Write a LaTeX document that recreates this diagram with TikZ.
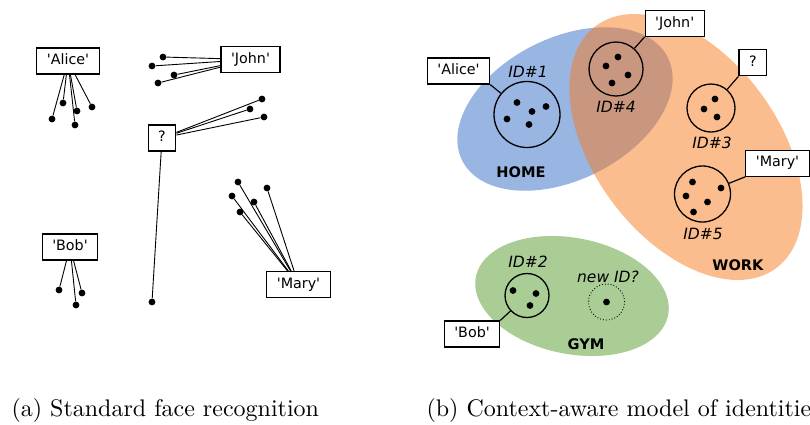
\documentclass[tikz,border=0pt]{standalone}
\usepackage{fontspec}
\newfontfamily\diagfont{DejaVu Sans}
\newfontfamily\capfont{lmroman10-regular.otf}
\usepackage{tikz}
\usetikzlibrary{calc,positioning}
\definecolor{HomeBlue}{RGB}{51,107,195}
\definecolor{WorkOrange}{RGB}{249,123,30}
\definecolor{GymGreen}{RGB}{86,156,46}

\begin{document}
\begin{tikzpicture}[x=1pt,y=-1pt,
       every node/.style={font=\diagfont\fontsize{14.3}{16}\selectfont},
       namebox/.style={draw, line width=1.2pt, fill=white, inner xsep=10pt,
                       inner ysep=6.25pt, text height=10.5pt, text depth=3pt},
       face/.style={circle, fill=black, inner sep=0pt, minimum size=6.8pt},
       link/.style={line width=0.9pt},
       identity/.style={circle, draw, line width=1.3pt, inner sep=0pt, minimum size=#1},
       idlabel/.style={font=\diagfont\itshape\fontsize{15.5}{18}\selectfont},
       ctxlabel/.style={font=\diagfont\bfseries\fontsize{14.6}{17}\selectfont},
       context/.style 2 args={fill=#1, fill opacity=0.5, rotate around={#2}},
       caption/.style={anchor=base west, font=\capfont\fontsize{24}{28}\selectfont}]

	\useasboundingbox (0,0) rectangle (810,424);

	%% (a) one label per face, no context
	\node [namebox] (alice) at (68,61) {'Alice'};
	\node [namebox] (john) at (250.5,59.5) {'John'};
	\node [namebox] (unk) at (162,138) {?};
	\node [namebox] (bob) at (70,247) {'Bob'};
	\node [namebox] (mary) at (298.5,284.5) {'Mary'};

	\foreach [count=\i] \p in {(52,119),(63,103),(77,111),(75,125),(92,107)}
		{\node [face] (fa\i) at \p {};
		 \draw [link] (fa\i) -- (alice);}
	\foreach [count=\i] \p in {(163,57),(152,66),(174,75),(158,83)}
		{\node [face] (fj\i) at \p {};
		 \draw [link] (fj\i) -- (john);}
	\foreach [count=\i] \p in {(262,99),(250,109),(264,117),(152,302)}
		{\node [face] (fu\i) at \p {};
		 \draw [link] (fu\i) -- (unk);}
	\foreach [count=\i] \p in {(59,290),(76,305),(82,293)}
		{\node [face] (fb\i) at \p {};
		 \draw [link] (fb\i) -- (bob);}
	\foreach [count=\i] \p in {(238,182),(267,188),(232,196),(254,202),(240,212)}
		{\node [face] (fm\i) at \p {};
		 \draw [link] (fm\i) -- (mary);}

	%% (b) contexts first, as the background
	\fill [context={HomeBlue}{26.6:(565,109)}] (565,109) ellipse [x radius=115pt, y radius=71pt];
	\fill [context={WorkOrange}{-53.3:(686,147)}] (686,147) ellipse [x radius=151pt, y radius=92pt];
	\fill [context={GymGreen}{-11.3:(572,296)}] (572,296) ellipse [x radius=98pt, y radius=58pt];

	\node [ctxlabel] (home) at (521,172) {HOME};
	\node [ctxlabel] (work) at (738,265) {WORK};
	\node [ctxlabel] (gym) at (586,344) {GYM};

	%% identities with their faces
	\node [identity=66pt] (id1) at (527,114.5) {};
	\node [identity=54pt] (id4) at (616,69) {};
	\node [identity=48pt] (id3) at (711,108) {};
	\node [identity=56pt] (id5) at (702.5,194) {};
	\node [identity=44pt] (id2) at (527,295.5) {};
	\node [identity=36pt, line width=0.9pt, dotted] (idnew) at (606.5,302) {};

	\foreach \dx/\dy in {-10/-12,5/-3,19/-8,-20/4.5,2/10}
		{\node [face] at ($(id1)+(\dx,\dy)$) {};}
	\foreach \dx/\dy in {2/-12,-10/-3,12/6,-4/14}
		{\node [face] at ($(id4)+(\dx,\dy)$) {};}
	\foreach \dx/\dy in {4/-9,-7/1,6/9}
		{\node [face] at ($(id3)+(\dx,\dy)$) {};}
	\foreach \dx/\dy in {-10/-12,18.5/-6,-16.5/2,5/8,-9/18}
		{\node [face] at ($(id5)+(\dx,\dy)$) {};}
	\foreach \dx/\dy in {-14/-5,9/-2,3/10}
		{\node [face] at ($(id2)+(\dx,\dy)$) {};}
	\node [face] at (idnew) {};

	\node [idlabel] at (528,72) {ID\#1};
	\node [idlabel] at (616,107) {ID\#4};
	\node [idlabel] at (712,143) {ID\#3};
	\node [idlabel] at (703,234) {ID\#5};
	\node [idlabel] at (528,262) {ID\#2};
	\node [idlabel] at (608,277) {new ID?};

	%% names attached to identities
	\node [namebox] (alice2) at (458.5,71) {'Alice'};
	\node [namebox] (john2) at (674.7,23.3) {'John'};
	\node [namebox] (unk2) at (752.8,62.8) {?};
	\node [namebox] (mary2) at (777.5,163.2) {'Mary'};
	\node [namebox] (bob2) at (472,334) {'Bob'};

	\draw [line width=1.2pt] (alice2.south east) -- (id1);
	\draw [line width=1.2pt] (john2.south west) -- (id4);
	\draw [line width=1.2pt] (unk2.south west) -- (id3);
	\draw [line width=1.2pt] (mary2.south west) -- (id5);
	\draw [line width=1.2pt] (bob2.north east) -- (id2);

	%% captions
	\node [caption] (capa) at (8,416) {(a) Standard face recognition};
	\node [caption] (capb) at (423,416) {(b) Context-aware model of identities};
\end{tikzpicture}
\end{document}
